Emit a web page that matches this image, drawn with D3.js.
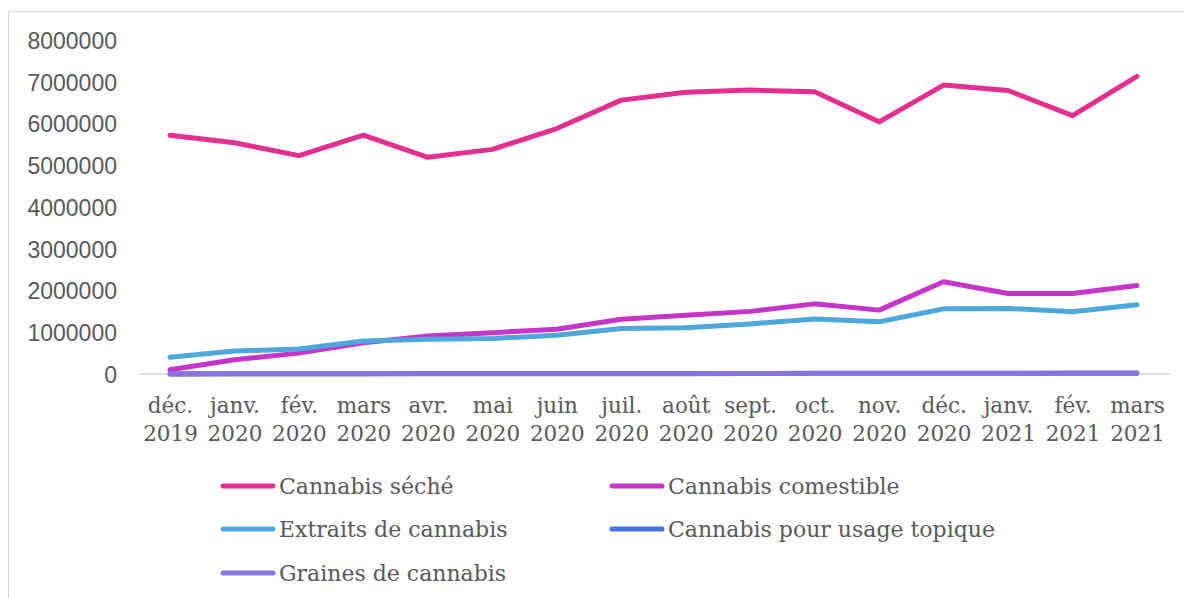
<!DOCTYPE html>
<html><head><meta charset="utf-8">
<script src="https://cdn.jsdelivr.net/npm/d3@7"></script>
<style>html,body{margin:0;padding:0;background:#fff;overflow:hidden}</style>
</head><body>
<svg id="c" width="1184" height="598"></svg>
<script>
const categories = [["déc.","2019"],["janv.","2020"],["fév.","2020"],["mars","2020"],["avr.","2020"],["mai","2020"],["juin","2020"],["juil.","2020"],["août","2020"],["sept.","2020"],["oct.","2020"],["nov.","2020"],["déc.","2020"],["janv.","2021"],["fév.","2021"],["mars","2021"]];
const yTicks = [0,1000000,2000000,3000000,4000000,5000000,6000000,7000000,8000000];
const seche = [5720000,5540000,5230000,5720000,5190000,5380000,5880000,6560000,6750000,6800000,6760000,6040000,6920000,6790000,6190000,7130000];
const comestible = [100000,340000,500000,750000,910000,990000,1070000,1310000,1410000,1500000,1680000,1530000,2210000,1930000,1930000,2120000];
const extraits = [400000,550000,600000,790000,830000,850000,930000,1090000,1110000,1200000,1320000,1250000,1560000,1570000,1490000,1660000];
const topique = [2000,4000,6000,8000,9000,10000,11000,12000,13000,14000,15000,16000,18000,20000,22000,26000];
const graines = [3000,4000,5000,6000,6000,7000,7000,8000,8000,9000,9000,10000,10000,11000,11000,12000];
const seriesNames = ["Cannabis séché","Cannabis comestible","Extraits de cannabis","Cannabis pour usage topique","Graines de cannabis"];
const seriesColors = ["#E32F8F","#C535C9","#4EA7DD","#4472E0","#8A72E0"];
const seriesData = [seche, comestible, extraits, topique, graines];

const svg = d3.select("#c");
const textColor = "#595959";

// frame
svg.append("rect").attr("x",8.5).attr("y",11.5).attr("width",1200).attr("height",620)
  .attr("fill","none").attr("stroke","#D9D9D9").attr("stroke-width",1.2);

const idx = categories.map((d,i)=>i);
const x = d3.scalePoint().domain(idx).range([170,1137]);
const y = d3.scaleLinear().domain([0,8000000]).range([374,40]);

// baseline
svg.append("line").attr("x1",139).attr("x2",1170).attr("y1",y(0)).attr("y2",y(0))
  .attr("stroke","#D9D9D9").attr("stroke-width",1.5);

// y axis labels
const yAxis = d3.axisLeft(y).tickValues(yTicks).tickFormat(d3.format("d")).tickSize(0).tickPadding(0);
const gy = svg.append("g").attr("transform","translate(117,0)").call(yAxis);
gy.select(".domain").remove();
gy.selectAll("text").attr("fill",textColor).style("font-family","'Liberation Sans', Arial, sans-serif").style("font-size","23px").attr("dy","0.36em");

// x axis labels
const xAxis = d3.axisBottom(x).tickSize(0).tickFormat("");
const gx = svg.append("g").attr("transform",`translate(0,${y(0)})`).call(xAxis);
gx.select(".domain").remove();
gx.selectAll(".tick").each(function(d){
  const t = d3.select(this).append("text").attr("text-anchor","middle").attr("fill",textColor)
    .style("font-family","'DejaVu Serif', serif").style("font-size","21.5px");
  t.append("tspan").attr("x",0).attr("y",39).text(categories[d][0]);
  t.append("tspan").attr("x",0).attr("y",67).text(categories[d][1]);
});

// lines
const line = d3.line().x((d,i)=>x(i)).y(d=>y(d));
seriesData.forEach((s,k)=>{
  svg.append("path").datum(s).attr("d",line).attr("fill","none")
    .attr("stroke",seriesColors[k]).attr("stroke-width",5)
    .attr("stroke-linecap","round").attr("stroke-linejoin","round");
});

// legend
const legPos = [[221,486],[610,486],[221,529],[610,529],[221,573]];
seriesNames.forEach((n,k)=>{
  const [lx,ly] = legPos[k];
  svg.append("line").attr("x1",lx+2).attr("x2",lx+52).attr("y1",ly).attr("y2",ly)
    .attr("stroke",seriesColors[k]).attr("stroke-width",5).attr("stroke-linecap","round");
  svg.append("text").attr("x",lx+58).attr("y",ly).attr("dy","0.35em").attr("fill",textColor)
    .style("font-family","'DejaVu Serif', serif").style("font-size","22px").text(n);
});
</script>
</body></html>
